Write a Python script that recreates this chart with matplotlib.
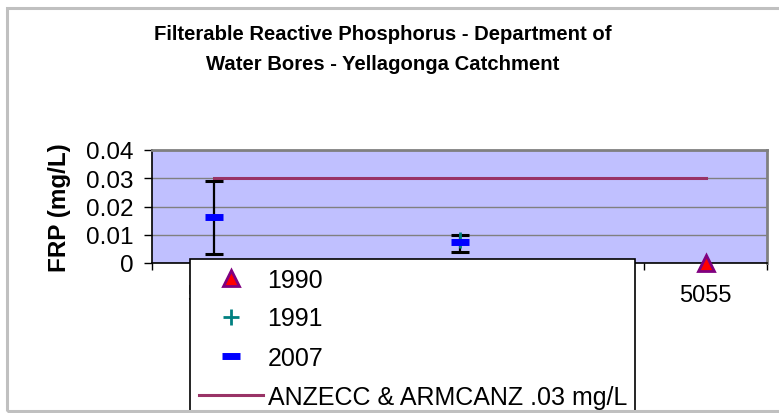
import numpy as np
import matplotlib
matplotlib.use("Agg")
import matplotlib.pyplot as plt
from matplotlib.patches import Rectangle

plt.rcParams["font.family"] = ["Liberation Sans", "DejaVu Sans"]

# bores (only every second label is shown on the axis)
bores = ["5047", "5049", "5051", "5053", "5055"]
frp_1990 = [np.nan, np.nan, np.nan, np.nan, 0.0]
frp_1991 = [np.nan, np.nan, 0.0082, np.nan, np.nan]
frp_2007 = [0.0164, np.nan, 0.0074, np.nan, np.nan]
err_low = [0.0032, np.nan, 0.0040, np.nan, np.nan]
err_high = [0.029, np.nan, 0.0100, np.nan, np.nan]
guideline = [0.03, 0.03, 0.03, 0.03, 0.03]
yticks = [0, 0.01, 0.02, 0.03, 0.04]
ytick_labels = ["0", "0.01", "0.02", "0.03", "0.04"]

x = np.arange(len(bores))
v2007 = np.array(frp_2007)
yerr = np.vstack([v2007 - np.array(err_low), np.array(err_high) - v2007])

fig = plt.figure(figsize=(7.79, 4.14), dpi=100)
ax = fig.add_axes([152 / 779, 1 - 264 / 414, 615 / 779, 113 / 414])
ax.set_facecolor("#c0c0ff")

ax.errorbar(x, v2007, yerr=yerr, fmt="none", ecolor="black",
            elinewidth=1.6, capsize=6.5, capthick=2.2, zorder=3)
ax.plot(x, frp_1990, linestyle="none", marker="^", markersize=12,
        markerfacecolor="red", markeredgecolor="#800080", markeredgewidth=2,
        label="1990", zorder=5, clip_on=False)
ax.plot(x, frp_1991, linestyle="none", marker="+", markersize=12,
        color="#008080", markeredgewidth=2, label="1991", zorder=4)
ax.plot(x, frp_2007, linestyle="none", marker="_", markersize=13,
        color="#0000ff", markeredgewidth=5, label="2007", zorder=4)
ax.plot(x, guideline, color="#993366", linewidth=2.2,
        label="ANZECC & ARMCANZ .03 mg/L", zorder=2)

ax.set_xlim(-0.5, len(bores) - 0.5)
ax.set_ylim(0, 0.04)
ax.set_yticks(yticks)
ax.set_yticklabels(ytick_labels)
ax.yaxis.grid(True, color="#808080", linewidth=1)
ax.set_axisbelow(True)

ax.set_xticks(x[::2])
ax.set_xticklabels(bores[::2])
ax.set_xticks(np.arange(-0.5, len(bores)), minor=True)
ax.tick_params(axis="x", which="major", length=0, pad=15, labelsize=17)
ax.tick_params(axis="x", which="minor", length=5, width=1, direction="out")
ax.tick_params(axis="y", length=6, width=1, direction="out", pad=7, labelsize=17.5)

for side in ["left", "bottom"]:
    ax.spines[side].set_color("black")
    ax.spines[side].set_linewidth(1.2)
for side in ["top", "right"]:
    ax.spines[side].set_color("#808080")
    ax.spines[side].set_linewidth(2)

ax.set_ylabel("FRP (mg/L)", fontsize=17.5, fontweight="bold", labelpad=11)

fig.text(383 / 779, 1 - 35 / 414, "Filterable Reactive Phosphorus - Department of",
         ha="center", va="center", fontsize=14.6, fontweight="bold")
fig.text(383 / 779, 1 - 64 / 414, "Water Bores - Yellagonga Catchment",
         ha="center", va="center", fontsize=14.6, fontweight="bold")

leg = ax.legend(loc="upper left", bbox_to_anchor=(190 / 779, 1 - 260 / 414),
                bbox_transform=fig.transFigure, fontsize=18, frameon=True,
                fancybox=False, edgecolor="black", framealpha=1,
                borderpad=0.34, labelspacing=0.6, handlelength=2.56,
                handletextpad=0.2, borderaxespad=0)
leg.get_frame().set_linewidth(1.2)
leg.set_zorder(6)

fig.patches.append(Rectangle((7 / 779, 2 / 414), 1.2, 1 - 11 / 414,
                             transform=fig.transFigure, fill=False,
                             edgecolor="#c0c0c0", linewidth=2.2, zorder=10))

fig.savefig("out.png", dpi=100)
